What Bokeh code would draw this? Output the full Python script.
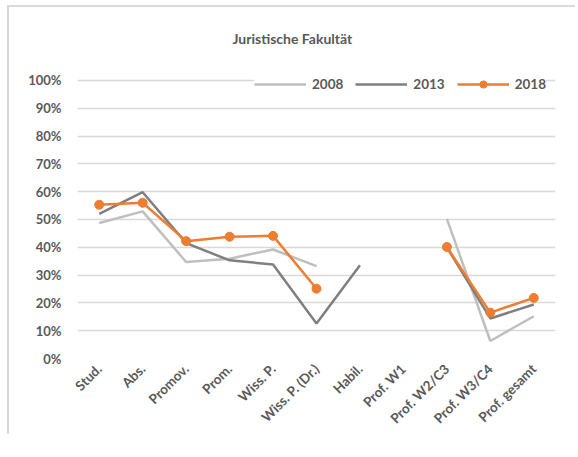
import math
from bokeh.plotting import figure
from bokeh.models import (Range1d, SingleIntervalTicker, NumeralTickFormatter,
                          Legend, LegendItem, Title)
from bokeh.embed import file_html
from bokeh.resources import INLINE

nan = float("nan")

categories = ["Stud.", "Abs.", "Promov.", "Prom.", "Wiss. P.", "Wiss. P. (Dr.)",
              "Habil.", "Prof. W1", "Prof. W2/C3", "Prof. W3/C4", "Prof. gesamt"]
v2008 = [0.487, 0.529, 0.347, 0.359, 0.392, 0.332, nan, nan, 0.502, 0.063, 0.152]
v2013 = [0.520, 0.598, 0.415, 0.353, 0.338, 0.126, 0.335, nan, 0.400, 0.144, 0.194]
v2018 = [0.553, 0.560, 0.422, 0.438, 0.441, 0.251, nan, nan, 0.401, 0.165, 0.218]
series_names = ["2008", "2013", "2018"]
title_text = "Juristische Fakultät"

FONT = "Lato"
TXT = "#595959"

p = figure(x_range=categories, y_range=Range1d(0, 1.05),
           width=566, height=445, frame_width=478, frame_height=292,
           min_border_left=68, min_border_top=59, min_border_right=20,
           output_backend="svg", toolbar_location=None)
p.styles = {"border-left": "2px solid #d9d9d9", "border-top": "2px solid #d9d9d9",
            "margin-left": "7px", "margin-top": "5px"}

t = Title(text=title_text, align="left", offset=155, standoff=40,
          text_font=FONT, text_font_size="14px", text_color=TXT,
          text_font_style="bold")
p.add_layout(t, "above")

p.outline_line_color = None
p.background_fill_color = "white"
p.border_fill_color = "white"

p.xgrid.grid_line_color = None
p.ygrid.grid_line_color = "#d9d9d9"
p.ygrid.grid_line_width = 1.5

p.yaxis.ticker = SingleIntervalTicker(interval=0.1)
p.yaxis.formatter = NumeralTickFormatter(format="0%")
for ax in (p.xaxis, p.yaxis):
    ax.axis_line_color = None
    ax.major_tick_line_color = None
    ax.minor_tick_line_color = None
    ax.major_tick_out = 0
    ax.major_tick_in = 0
    ax.major_label_text_font = FONT
    ax.major_label_text_font_size = "13px"
    ax.major_label_text_font_style = "bold"
    ax.major_label_text_color = TXT
p.yaxis.major_label_standoff = 12
p.xaxis.major_label_standoff = 8
p.xaxis.major_label_text_font_size = "13.5px"
p.xaxis.major_label_orientation = math.pi / 4

x = categories
r08 = p.line(x, v2008, line_color="#bfbfbf", line_width=2.5)
r13 = p.line(x, v2013, line_color="#7f7f7f", line_width=2.5)
r18 = p.line(x, v2018, line_color="#ed7d31", line_width=2.5)
m18 = p.scatter(x, v2018, size=9, fill_color="#ed7d31", line_color="#ed7d31")

legend = Legend(items=[LegendItem(label=series_names[0], renderers=[r08]),
                       LegendItem(label=series_names[1], renderers=[r13]),
                       LegendItem(label=series_names[2], renderers=[r18, m18])],
                orientation="horizontal", location=(177, 265),
                glyph_width=52, glyph_height=18, label_height=18,
                label_standoff=6, spacing=12, padding=8, margin=0,
                border_line_color=None, background_fill_color="white",
                background_fill_alpha=1.0,
                label_text_font=FONT, label_text_font_size="13.5px",
                label_text_font_style="bold", label_text_color=TXT)
p.add_layout(legend, "center")

open("out.html", "w").write(file_html(p, INLINE))
